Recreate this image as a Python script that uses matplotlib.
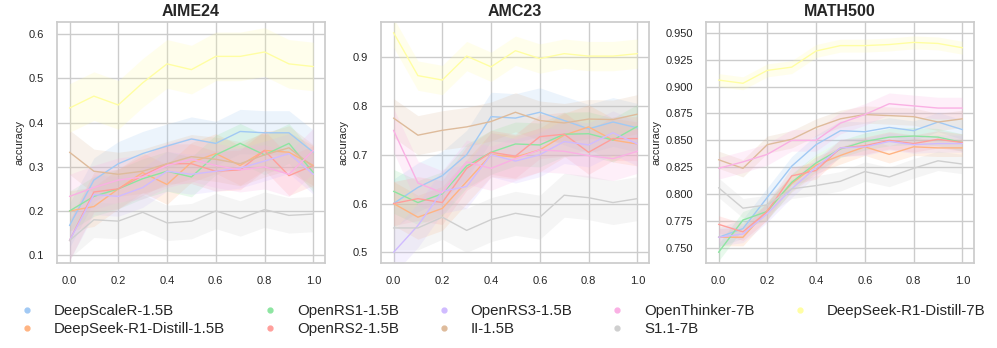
import numpy as np
import matplotlib
matplotlib.use('Agg')
from matplotlib import pyplot as plt
from matplotlib.lines import Line2D
import seaborn as sns

sns.set_theme(style='whitegrid')
plt.rcParams['font.family'] = ['Liberation Sans', 'DejaVu Sans']

steps = [0.0, 0.1, 0.2, 0.3, 0.4, 0.5, 0.6, 0.7, 0.8, 0.9, 1.0]
models = ['DeepScaleR-1.5B', 'DeepSeek-R1-Distill-1.5B', 'OpenRS1-1.5B', 'OpenRS2-1.5B',
          'OpenRS3-1.5B', 'II-1.5B', 'OpenThinker-7B', 'S1.1-7B', 'DeepSeek-R1-Distill-7B']
benchmarks = ['AIME24', 'AMC23', 'MATH500']

# AIME24
aime_deepscaler = [0.167, 0.27, 0.307, 0.33, 0.347, 0.363, 0.353, 0.38, 0.377, 0.377, 0.333]
aime_distill15 = [0.2, 0.21, 0.25, 0.287, 0.26, 0.31, 0.33, 0.303, 0.337, 0.333, 0.303]
aime_openrs1 = [0.2, 0.233, 0.25, 0.273, 0.29, 0.277, 0.327, 0.353, 0.327, 0.353, 0.287]
aime_openrs2 = [0.133, 0.243, 0.25, 0.28, 0.307, 0.307, 0.29, 0.293, 0.337, 0.28, 0.303]
aime_openrs3 = [0.133, 0.237, 0.233, 0.253, 0.29, 0.283, 0.29, 0.297, 0.313, 0.33, 0.283]
aime_ii = [0.333, 0.29, 0.283, 0.29, 0.307, 0.323, 0.317, 0.307, 0.327, 0.343, 0.3]
aime_openthinker = [0.233, 0.253, 0.27, 0.277, 0.303, 0.317, 0.303, 0.293, 0.3, 0.283, 0.337]
aime_s1 = [0.133, 0.18, 0.177, 0.197, 0.173, 0.177, 0.2, 0.183, 0.203, 0.19, 0.193]
aime_distill7 = [0.433, 0.46, 0.44, 0.49, 0.533, 0.52, 0.55, 0.55, 0.56, 0.533, 0.527]
aime_band = [0.05, 0.045, 0.045, 0.045, 0.045, 0.05, 0.05, 0.04, 0.055]

# AMC23
amc_deepscaler = [0.6, 0.633, 0.657, 0.7, 0.778, 0.775, 0.787, 0.77, 0.753, 0.767, 0.755]
amc_distill15 = [0.6, 0.572, 0.59, 0.645, 0.7, 0.695, 0.71, 0.74, 0.757, 0.73, 0.722]
amc_openrs1 = [0.625, 0.602, 0.62, 0.677, 0.705, 0.722, 0.72, 0.742, 0.743, 0.73, 0.758]
amc_openrs2 = [0.6, 0.61, 0.602, 0.672, 0.705, 0.697, 0.737, 0.742, 0.705, 0.733, 0.733]
amc_openrs3 = [0.5, 0.555, 0.625, 0.635, 0.7, 0.687, 0.7, 0.727, 0.72, 0.745, 0.722]
amc_ii = [0.775, 0.74, 0.75, 0.757, 0.768, 0.787, 0.77, 0.765, 0.773, 0.772, 0.783]
amc_openthinker = [0.75, 0.642, 0.622, 0.685, 0.672, 0.692, 0.71, 0.707, 0.698, 0.692, 0.707]
amc_s1 = [0.55, 0.55, 0.572, 0.545, 0.567, 0.58, 0.572, 0.617, 0.612, 0.602, 0.61]
amc_distill7 = [0.95, 0.862, 0.853, 0.902, 0.88, 0.913, 0.897, 0.907, 0.902, 0.902, 0.907]
amc_band = [0.05, 0.045, 0.045, 0.045, 0.045, 0.04, 0.045, 0.045, 0.03]

# MATH500
math_deepscaler = [0.76, 0.768, 0.797, 0.826, 0.846, 0.859, 0.858, 0.862, 0.859, 0.867, 0.86]
math_distill15 = [0.76, 0.76, 0.785, 0.81, 0.827, 0.836, 0.844, 0.837, 0.844, 0.843, 0.843]
math_openrs1 = [0.746, 0.776, 0.784, 0.811, 0.829, 0.842, 0.849, 0.853, 0.854, 0.853, 0.848]
math_openrs2 = [0.772, 0.765, 0.784, 0.817, 0.822, 0.843, 0.845, 0.85, 0.847, 0.851, 0.848]
math_openrs3 = [0.76, 0.763, 0.782, 0.805, 0.825, 0.843, 0.844, 0.849, 0.846, 0.847, 0.847]
math_ii = [0.832, 0.824, 0.846, 0.851, 0.862, 0.87, 0.874, 0.873, 0.872, 0.867, 0.87]
math_openthinker = [0.824, 0.83, 0.837, 0.85, 0.85, 0.866, 0.874, 0.884, 0.882, 0.88, 0.88]
math_s1 = [0.806, 0.787, 0.79, 0.805, 0.808, 0.812, 0.821, 0.816, 0.824, 0.831, 0.828]
math_distill7 = [0.906, 0.903, 0.915, 0.918, 0.933, 0.938, 0.938, 0.939, 0.941, 0.94, 0.936]
math_band = [0.009, 0.008, 0.008, 0.008, 0.008, 0.008, 0.01, 0.009, 0.006]

panels = [
    ([aime_deepscaler, aime_distill15, aime_openrs1, aime_openrs2, aime_openrs3,
      aime_ii, aime_openthinker, aime_s1, aime_distill7], aime_band, (0.082, 0.628)),
    ([amc_deepscaler, amc_distill15, amc_openrs1, amc_openrs2, amc_openrs3,
      amc_ii, amc_openthinker, amc_s1, amc_distill7], amc_band, (0.478, 0.972)),
    ([math_deepscaler, math_distill15, math_openrs1, math_openrs2, math_openrs3,
      math_ii, math_openthinker, math_s1, math_distill7], math_band, (0.736, 0.96)),
]

colors = sns.color_palette('pastel')

fig = plt.figure(figsize=(9.97, 3.48), dpi=100)
lefts = [0.057, 0.382, 0.708]
x = np.array(steps)

for i, (series, band, ylim) in enumerate(panels):
    ax = fig.add_axes([lefts[i], 0.244, 0.269, 0.693])
    for j, vals in enumerate(series):
        y = np.array(vals)
        ax.fill_between(x, y - band[j], y + band[j], color=colors[j], alpha=0.2, linewidth=0)
        ax.plot(x, y, color=colors[j], linewidth=1.0)
    ax.set_ylim(*ylim)
    ax.set_xlim(-0.052, 1.048)
    ax.set_xticks([0.0, 0.2, 0.4, 0.6, 0.8, 1.0])
    ax.set_title(benchmarks[i], fontsize=11.5, fontweight='bold', pad=4)
    ax.set_ylabel('accuracy', fontsize=8, labelpad=3)
    ax.tick_params(labelsize=8, pad=3)

handles = [Line2D([], [], color=colors[j], marker='o', linestyle='None', markersize=3.5)
           for j in range(len(models))]
fig.legend(handles, models, loc='lower center', bbox_to_anchor=(0.5, -0.004), ncol=5,
           frameon=False, fontsize=10.8, labelspacing=0.25)

plt.savefig('out.png', dpi=100)
